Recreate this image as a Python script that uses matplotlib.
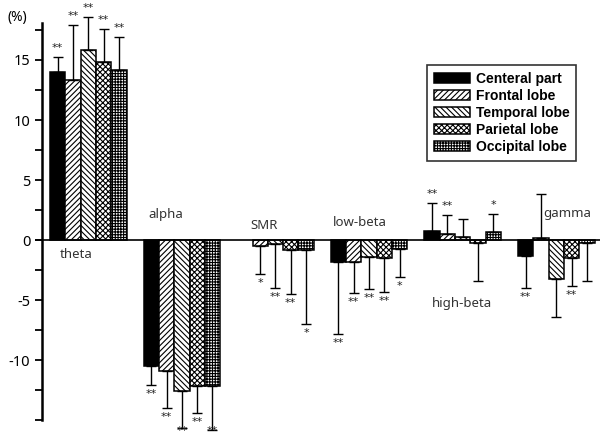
import numpy as np
import matplotlib
matplotlib.use('Agg')
import matplotlib.pyplot as plt

plt.rcParams['axes.unicode_minus'] = False
plt.rcParams['hatch.linewidth'] = 0.8

bands = ['theta', 'alpha', 'SMR', 'low-beta', 'high-beta', 'gamma']
regions = ['Centeral part', 'Frontal lobe', 'Temporal lobe', 'Parietal lobe', 'Occipital lobe']

# mean change (%) per band, one list per region
central = [14.0, -10.47, np.nan, -1.86, 0.75, -1.33]
frontal = [13.3, -10.9, -0.47, -1.86, 0.5, 0.2]
temporal = [15.8, -12.6, -0.36, -1.44, 0.25, -3.28]
parietal = [14.8, -12.2, -0.86, -1.53, -0.28, -1.47]
occipital = [14.2, -12.2, -0.86, -0.78, 0.7, -0.28]

# one-sided error (drawn away from zero)
central_err = [1.28, 1.63, np.nan, 6.0, 2.35, 2.7]
frontal_err = [4.6, 3.07, 2.39, 2.58, 1.55, 3.63]
temporal_err = [2.8, 3.1, 3.61, 2.64, 1.53, 3.16]
parietal_err = [2.8, 2.2, 3.67, 2.77, 3.11, 2.33]
occipital_err = [2.7, 3.63, 6.17, 2.3, 1.44, 3.14]

central_sig = ['**', '**', '', '**', '**', '**']
frontal_sig = ['**', '**', '*', '**', '**', '']
temporal_sig = ['**', '**', '**', '**', '', '']
parietal_sig = ['**', '**', '**', '**', '', '**']
occipital_sig = ['**', '**', '*', '*', '*', '']

values = [central, frontal, temporal, parietal, occipital]
errors = [central_err, frontal_err, temporal_err, parietal_err, occipital_err]
sigs = [central_sig, frontal_sig, temporal_sig, parietal_sig, occipital_sig]
colors = ['black', 'white', 'white', 'white', 'white']
hatches = ['', '//////', '\\\\\\\\\\\\', 'xxxxxx', '++++++']

fig = plt.figure(figsize=(6, 4.36), dpi=100)
ax = fig.add_axes([35 / 600, 0, 1 - 35 / 600, 1])

w = 0.1635
x0 = np.arange(len(bands))
for j in range(len(regions)):
    xs = x0 + (j + 0.5) * w
    vals = np.array(values[j], dtype=float)
    errs = np.array(errors[j], dtype=float)
    ok = ~np.isnan(vals)
    ax.bar(xs[ok], vals[ok], width=w, color=colors[j], hatch=hatches[j],
           edgecolor='black', linewidth=1.1, label=regions[j], zorder=2)
    lo = np.where(vals < 0, errs, 0)
    hi = np.where(vals >= 0, errs, 0)
    ax.errorbar(xs[ok], vals[ok], yerr=[lo[ok], hi[ok]], fmt='none',
                ecolor='black', elinewidth=1.0, capsize=3.5, capthick=1.0, zorder=3)
    for k in range(len(bands)):
        s = sigs[j][k]
        if not s:
            continue
        if vals[k] >= 0:
            ax.text(xs[k], vals[k] + errs[k] + 0.75, s, ha='center', va='center',
                    fontsize=8, color='#222222')
        else:
            ys = max(vals[k] - errs[k] - 0.75, -15.95)
            ax.text(xs[k], ys, s, ha='center', va='center',
                    fontsize=8, color='#222222')

# band labels
label_x = [0.28, 1.24, 2.29, 3.31, 4.4, 5.53]
label_y = [-1.25, 2.1, 1.25, 1.5, -5.25, 2.2]
for name, lx, ly in zip(bands, label_x, label_y):
    ax.text(lx, ly, name, ha='center', va='center', fontsize=9.5,
            family='Noto Sans', color='#333333')

ax.set_xlim((35 - 50) / 93.6, (600 - 50) / 93.6)
ax.set_ylim(-196 / 12, 20)
ax.axhline(0, color='black', linewidth=1.2, zorder=4)

for sp in ['top', 'right', 'bottom']:
    ax.spines[sp].set_visible(False)
ax.spines['left'].set_position(('data', (42 - 50) / 93.6))
ax.spines['left'].set_bounds(-15, 18.1)
ax.spines['left'].set_linewidth(1.8)
ax.set_xticks([])
ax.set_yticks([-10, -5, 0, 5, 10, 15])
ax.set_yticks([-15, -12.5, -7.5, -2.5, 2.5, 7.5, 12.5, 17.5], minor=True)
ax.tick_params(axis='y', which='both', direction='out', length=5, width=1.3)
for t in ax.get_yticklabels():
    t.set_fontweight('bold')
    t.set_fontsize(10.5)
    t.set_family('Noto Sans')
fig.text(17 / 600, 1 - 18 / 436, '(%)', ha='center', va='center',
         fontsize=10, fontweight='bold', family='Noto Sans')

leg = ax.legend(loc='upper left', bbox_to_anchor=(427 / 600, 1 - 65 / 436),
                bbox_transform=fig.transFigure, borderaxespad=0,
                frameon=True, fancybox=False, edgecolor='black',
                prop={'family': 'Liberation Sans', 'weight': 'bold', 'size': 10},
                handlelength=2.6, handleheight=0.75, labelspacing=0.22,
                handletextpad=0.4, borderpad=0.5)
leg.get_frame().set_linewidth(1.2)

fig.savefig('out.png', dpi=100)
